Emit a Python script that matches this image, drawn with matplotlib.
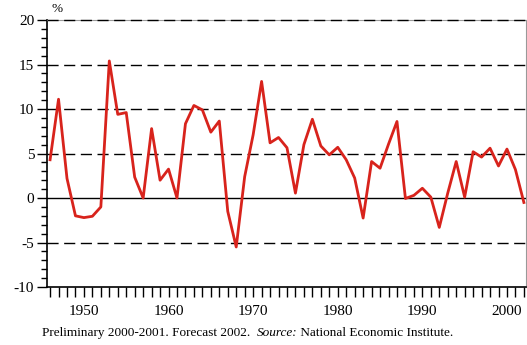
import numpy as np
import matplotlib.pyplot as plt
from matplotlib.ticker import MultipleLocator

plt.rcParams['font.family'] = ['Liberation Serif', 'DejaVu Serif']
plt.rcParams['axes.unicode_minus'] = False

# annual growth, %
years = list(range(1946, 2003))
growth = [4.3, 11.1, 2.2, -2.0, -2.2, -2.05, -1.0, 15.4, 9.4, 9.6,
          2.35, 0.0, 7.8, 2.0, 3.25, 0.0, 8.35, 10.4, 9.9, 7.4,
          8.65, -1.5, -5.5, 2.4, 7.1, 13.1, 6.2, 6.8, 5.65, 0.55,
          6.0, 8.85, 5.85, 4.85, 5.7, 4.3, 2.25, -2.25, 4.1, 3.35,
          6.05, 8.6, -0.05, 0.3, 1.1, 0.1, -3.3, 0.55, 4.1, 0.1,
          5.2, 4.6, 5.6, 3.6, 5.5, 3.2, -0.5]

yticks = [-10, -5, 0, 5, 10, 15, 20]
xticks = [1950, 1960, 1970, 1980, 1990, 2000]

fig = plt.figure(figsize=(5.27, 3.45), dpi=100)
ax = fig.add_axes([0.0886, 0.168, 0.9095, 0.774])

for v in [-5, 5, 10, 15, 20]:
    ax.axhline(v, color='black', lw=1.0, dashes=(8, 4), zorder=3, clip_on=False)
ax.axhline(0, color='black', lw=1.0, zorder=1)

ax.plot(years, growth, color='#d8231c', lw=2.0, zorder=4)

ax.set_xlim(1945.6, 2002.25)
ax.set_ylim(-10, 20)
ax.set_yticks(yticks)
ax.set_xticks(xticks)
ax.yaxis.set_minor_locator(MultipleLocator(1))
ax.xaxis.set_minor_locator(MultipleLocator(1))

ax.tick_params(axis='y', which='major', length=7, width=1, labelsize=11, pad=2)
ax.tick_params(axis='y', which='minor', length=4, width=1)
ax.tick_params(axis='x', which='both', length=7, width=1, labelsize=11, pad=6)

for side in ['top', 'right']:
    ax.spines[side].set_color('#999999')
for side in ['left', 'bottom']:
    ax.spines[side].set_linewidth(1.2)

fig.text(0.098, 0.975, '%', fontsize=9.5, ha='left', va='center')

# footer: plain text, italic "Source:", then plain text again
renderer = fig.canvas.get_renderer()
t1 = fig.text(0.079, 0.035, 'Preliminary 2000-2001. Forecast 2002.  ',
              fontsize=9.5, ha='left', va='center')
x0 = t1.get_window_extent(renderer).x1 / fig.bbox.width
t2 = fig.text(x0, 0.035, 'Source:', fontsize=9.5, style='italic',
              ha='left', va='center')
x1 = t2.get_window_extent(renderer).x1 / fig.bbox.width
fig.text(x1, 0.035, ' National Economic Institute.', fontsize=9.5,
         ha='left', va='center')

fig.savefig('out.png', dpi=100)
